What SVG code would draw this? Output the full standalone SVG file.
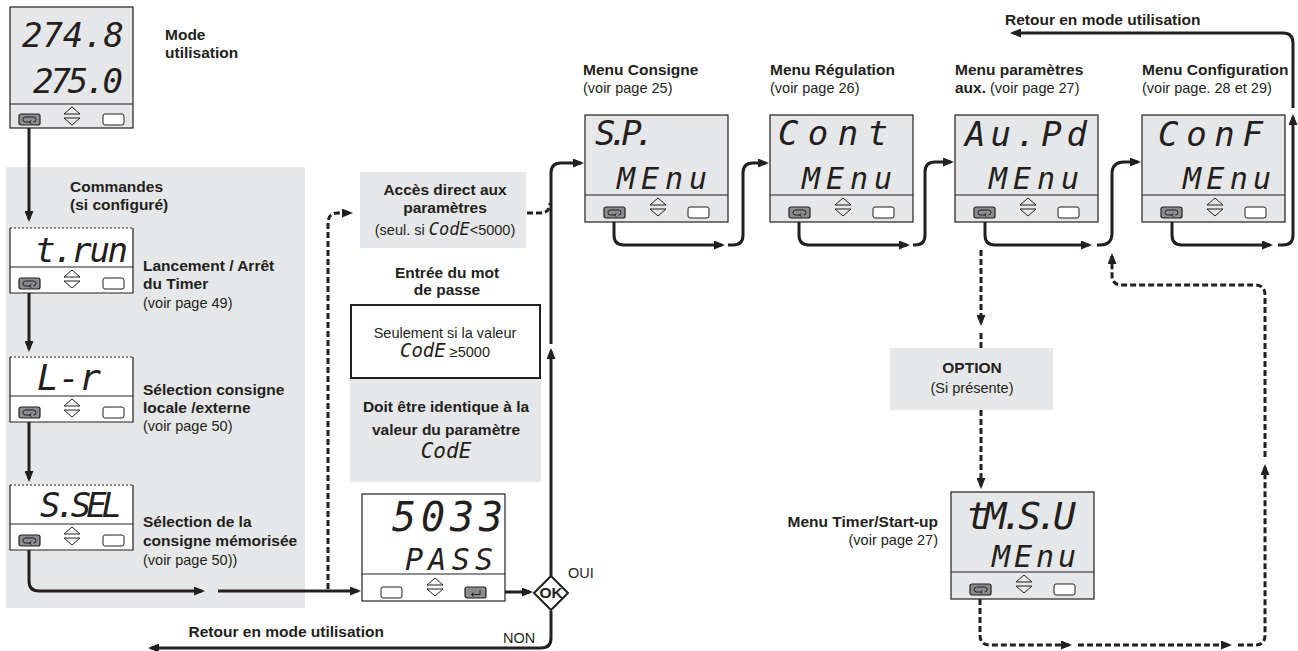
<svg xmlns="http://www.w3.org/2000/svg" xmlns:xlink="http://www.w3.org/1999/xlink" width="1298" height="651" viewBox="0 0 1298 651">
<style>
.b{font-family:"Liberation Sans",Arial,sans-serif;font-weight:bold;font-size:15.5px;fill:#231f20}
.r{font-family:"Liberation Sans",Arial,sans-serif;font-size:14.5px;fill:#231f20}
.seg{font-family:"DejaVu Sans Mono",monospace;font-style:oblique;fill:#231f20}
.c{fill:none;stroke:#231f20;stroke-width:3}
.d{fill:none;stroke:#231f20;stroke-width:3;stroke-dasharray:6 3}
.ln{stroke:#231f20;stroke-width:1.2}
</style>
<defs>
<marker id="ah" viewBox="0 0 11 9" refX="8" refY="4.5" markerWidth="11" markerHeight="9" markerUnits="userSpaceOnUse" orient="auto"><path d="M0,0 L11,4.5 L0,9 Z" fill="#231f20"/></marker>
<g id="ud"><path d="M-8,-2 L0,-9 L8,-2 Z M-8,2 L0,9 L8,2 Z" fill="none" stroke="#231f20" stroke-width="1" stroke-linejoin="round"/></g>
<g id="bl"><rect x="0" y="0" width="21" height="11" rx="2" fill="#8a8c8e" stroke="#231f20" stroke-width="1.2"/><path d="M12,8 H6.5 a2.5,2.5 0 0 1 0,-5 H14.5 a2.5,2.5 0 0 1 0,5" fill="none" stroke="#231f20" stroke-width="1"/><path d="M12.5,6.3 L10.5,8 L12.5,9.7" fill="none" stroke="#231f20" stroke-width="0.9"/></g>
<rect id="bw" x="0" y="0" width="21" height="11" rx="2" fill="#fff" stroke="#231f20" stroke-width="1"/>
<g id="be"><rect x="0" y="0" width="21" height="11" rx="2" fill="#8a8c8e" stroke="#231f20" stroke-width="1.2"/><path d="M15,3 V7.5 H6.5 M8.5,5.5 L6.5,7.5 L8.5,9.5" fill="none" stroke="#231f20" stroke-width="1"/></g>
<g id="dm"><rect x="0" y="0" width="143" height="107" fill="#e6e7e8" class="ln"/><line x1="0" y1="80" x2="143" y2="80" class="ln"/><use xlink:href="#bl" x="19" y="92"/><use xlink:href="#ud" x="73" y="92"/><use xlink:href="#bw" x="103" y="92"/></g>
<g id="ds"><rect x="0" y="0" width="123" height="65" fill="#fff"/><path d="M0,0 V65 H123 V0" fill="none" class="ln"/><path d="M0,0 H123" fill="none" stroke="#231f20" stroke-width="1" stroke-dasharray="2 2"/><line x1="0" y1="39" x2="123" y2="39" class="ln"/><use xlink:href="#bl" x="9" y="50"/><use xlink:href="#ud" x="62" y="51"/><use xlink:href="#bw" x="93" y="50"/></g>
</defs>
<rect width="1298" height="651" fill="#fff"/>

<rect id="panel-commandes" x="6" y="167" width="299" height="441" fill="#e6e7e8"/>

<g id="connectors">
<path class="c" d="M29,127 V219" marker-end="url(#ah)"/>
<path class="c" d="M29,290 V349" marker-end="url(#ah)"/>
<path class="c" d="M29,419 V479" marker-end="url(#ah)"/>
<path class="c" d="M29,546 V581 Q29,591 39,591 H202" marker-end="url(#ah)"/>
<path class="c" d="M218,591 H358" marker-end="url(#ah)"/>
<path class="d" d="M328,589 V223 Q328,213 338,213 H350" marker-end="url(#ah)"/>
<path class="d" d="M527,213 H540 Q550,213 550,203"/>
<path class="c" d="M486,592 H530" marker-end="url(#ah)"/>
<path class="c" d="M551,576 V351" marker-end="url(#ah)"/>
<path class="c" d="M551,344 V173 Q551,163 561,163 H581" marker-end="url(#ah)"/>
<path class="c" d="M551,611 V638 Q551,648 541,648 H151" marker-end="url(#ah)"/>
<path class="c" d="M614,218 V235 Q614,245 624,245 H722" marker-end="url(#ah)"/>
<path class="c" d="M728,245 H733 Q743,245 743,235 V173 Q743,163 753,163 H766" marker-end="url(#ah)"/>
<path class="c" d="M799,218 V235 Q799,245 809,245 H907" marker-end="url(#ah)"/>
<path class="c" d="M913,245 H915 Q925,245 925,235 V172 Q925,162 935,162 H951" marker-end="url(#ah)"/>
<path class="c" d="M985,218 V235 Q985,245 995,245 H1089" marker-end="url(#ah)"/>
<path class="c" d="M1097,245 H1100 Q1112,245 1112,233 V174 Q1112,162 1124,162 H1138" marker-end="url(#ah)"/>
<path class="c" d="M1172,218 V235 Q1172,245 1182,245 H1270" marker-end="url(#ah)"/>
<path class="c" d="M1278,245 H1283 Q1293,245 1293,235 V117" marker-end="url(#ah)"/>
<path class="c" d="M1293,108 V43 Q1293,33 1283,33 H1013" marker-end="url(#ah)"/>
<path class="d" d="M981,250 V323" marker-end="url(#ah)"/>
<path class="d" d="M981,333 V348"/>
<path class="d" d="M981,410 V486" marker-end="url(#ah)"/>
<path class="d" d="M980,599 V635 Q980,645 990,645 H1069" marker-end="url(#ah)"/>
<path class="d" d="M1078,645 H1229" marker-end="url(#ah)"/>
<path class="d" d="M1238,645 H1255 Q1265,645 1265,635 V467" marker-end="url(#ah)"/>
<path class="d" d="M1265,457 V295 Q1265,285 1255,285 H1122 Q1112,285 1112,275 V256" marker-end="url(#ah)"/>
</g>

<g id="node-mode-utilisation">
<rect x="10" y="7" width="123" height="121" fill="#e6e7e8" class="ln"/>
<line x1="10" y1="104" x2="133" y2="104" class="ln"/>
<use xlink:href="#bl" x="19" y="114"/>
<use xlink:href="#ud" x="72" y="116"/>
<use xlink:href="#bw" x="103" y="114"/>
<text class="seg" x="22" y="47" font-size="34" textLength="102" lengthAdjust="spacing">274.8</text>
<text class="seg" x="33" y="93" font-size="34" textLength="90" lengthAdjust="spacing">275.0</text>
<text class="b" x="165" y="40">Mode</text>
<text class="b" x="165" y="58">utilisation</text>
</g>

<g id="node-commandes-title">
<text class="b" x="70" y="192">Commandes</text>
<text class="b" x="70" y="210">(si configuré)</text>
</g>

<g id="node-trun">
<use xlink:href="#ds" x="10" y="228"/>
<text class="seg" x="35" y="262" font-size="34" textLength="93" lengthAdjust="spacing">t.run</text>
<text class="b" x="143" y="271">Lancement / Arrêt</text>
<text class="b" x="143" y="289">du Timer</text>
<text class="r" x="143" y="308">(voir page 49)</text>
</g>

<g id="node-lr">
<use xlink:href="#ds" x="10" y="357"/>
<text class="seg" x="37" y="390" font-size="36" textLength="64" lengthAdjust="spacing">L - r</text>
<text class="b" x="143" y="395">Sélection consigne</text>
<text class="b" x="143" y="413">locale /externe</text>
<text class="r" x="143" y="431">(voir page 50)</text>
</g>

<g id="node-ssel">
<use xlink:href="#ds" x="10" y="485"/>
<text class="seg" x="40" y="517" font-size="34" textLength="82" lengthAdjust="spacing">S.SEL</text>
<text class="b" x="143" y="527">Sélection de la</text>
<text class="b" x="143" y="546">consigne mémorisée</text>
<text class="r" x="143" y="565">(voir page 50))</text>
</g>

<g id="node-acces-direct">
<rect x="360" y="172" width="166" height="76" fill="#e6e7e8"/>
<text class="b" x="445" y="195" text-anchor="middle">Accès direct aux</text>
<text class="b" x="445" y="213" text-anchor="middle">paramètres</text>
<text x="445" y="235" text-anchor="middle"><tspan class="r">(seul. si </tspan><tspan class="seg" font-size="17">CodE</tspan><tspan class="r">&lt;5000)</tspan></text>
</g>

<g id="node-mot-de-passe">
<text class="b" x="447" y="278" text-anchor="middle">Entrée du mot</text>
<text class="b" x="447" y="295" text-anchor="middle">de passe</text>
<rect x="350" y="378" width="191" height="104" fill="#e6e7e8"/>
<rect x="351" y="305" width="189" height="73" fill="#fff" stroke="#231f20" stroke-width="2"/>
<text class="r" x="445" y="338" text-anchor="middle">Seulement si la valeur</text>
<text x="445" y="357" text-anchor="middle"><tspan class="seg" font-size="19">CodE</tspan><tspan class="r">  ≥5000</tspan></text>
<text class="b" x="446" y="412" text-anchor="middle">Doit être identique à la</text>
<text class="b" x="446" y="435" text-anchor="middle">valeur du paramètre</text>
<text class="seg" x="446" y="458" font-size="21" text-anchor="middle">CodE</text>
</g>

<g id="node-pass">
<rect x="362" y="494" width="143" height="107" fill="#fff" class="ln"/>
<line x1="362" y1="574" x2="505" y2="574" class="ln"/>
<use xlink:href="#bw" x="381" y="587"/>
<use xlink:href="#ud" x="435" y="587"/>
<use xlink:href="#be" x="465" y="587"/>
<text class="seg" x="392" y="531" font-size="40" textLength="111" lengthAdjust="spacing">5033</text>
<text class="seg" x="405" y="570" font-size="30" textLength="88" lengthAdjust="spacing">PASS</text>
</g>

<g id="node-ok">
<polygon points="551,576 568,593 551,610 534,593" fill="#fff" stroke="#231f20" stroke-width="2"/>
<text class="b" x="551" y="598" font-size="14" text-anchor="middle">OK</text>
<text class="r" x="568" y="578">OUI</text>
<text class="r" x="503" y="643">NON</text>
</g>

<g id="node-retour-bas">
<text class="b" x="384" y="637" text-anchor="end">Retour en mode utilisation</text>
</g>

<g id="node-consigne">
<use xlink:href="#dm" x="585" y="115"/>
<text class="seg" x="595" y="145" font-size="34" textLength="60" lengthAdjust="spacing">S.P.</text>
<text class="seg" x="617" y="189" font-size="30" textLength="90" lengthAdjust="spacing">MEnu</text>
<text class="b" x="583" y="75">Menu Consigne</text>
<text class="r" x="583" y="93">(voir page 25)</text>
</g>

<g id="node-regulation">
<use xlink:href="#dm" x="770" y="115"/>
<text class="seg" x="778" y="145" font-size="34" textLength="110" lengthAdjust="spacing">Cont</text>
<text class="seg" x="802" y="189" font-size="30" textLength="90" lengthAdjust="spacing">MEnu</text>
<text class="b" x="770" y="75">Menu Régulation</text>
<text class="r" x="770" y="93">(voir page 26)</text>
</g>

<g id="node-parametres-aux">
<use xlink:href="#dm" x="955" y="115"/>
<text class="seg" x="965" y="146" font-size="34" textLength="122" lengthAdjust="spacing">Au.Pd</text>
<text class="seg" x="989" y="189" font-size="30" textLength="90" lengthAdjust="spacing">MEnu</text>
<text class="b" x="955" y="75">Menu paramètres</text>
<text x="955" y="93"><tspan class="b">aux.</tspan><tspan class="r"> (voir page 27)</tspan></text>
</g>

<g id="node-configuration">
<use xlink:href="#dm" x="1142" y="115"/>
<text class="seg" x="1158" y="146" font-size="34" textLength="105" lengthAdjust="spacing">ConF</text>
<text class="seg" x="1183" y="189" font-size="30" textLength="88" lengthAdjust="spacing">MEnu</text>
<text class="b" x="1142" y="75">Menu Configuration</text>
<text class="r" x="1142" y="93">(voir page. 28 et 29)</text>
</g>

<g id="node-retour-haut">
<text class="b" x="1005" y="25">Retour en mode utilisation</text>
</g>

<g id="node-option">
<rect x="890" y="348" width="163" height="62" fill="#e6e7e8"/>
<text class="b" x="972" y="373" text-anchor="middle">OPTION</text>
<text class="r" x="972" y="393" text-anchor="middle">(Si présente)</text>
</g>

<g id="node-timer">
<use xlink:href="#dm" x="951" y="492"/>
<text class="seg" x="966" y="529" font-size="38" textLength="110" lengthAdjust="spacing">tM.S.U</text>
<text class="seg" x="992" y="567" font-size="30" textLength="84" lengthAdjust="spacing">MEnu</text>
<text class="b" x="938" y="527" text-anchor="end">Menu Timer/Start-up</text>
<text class="r" x="938" y="545" text-anchor="end">(voir page 27)</text>
</g>
</svg>
